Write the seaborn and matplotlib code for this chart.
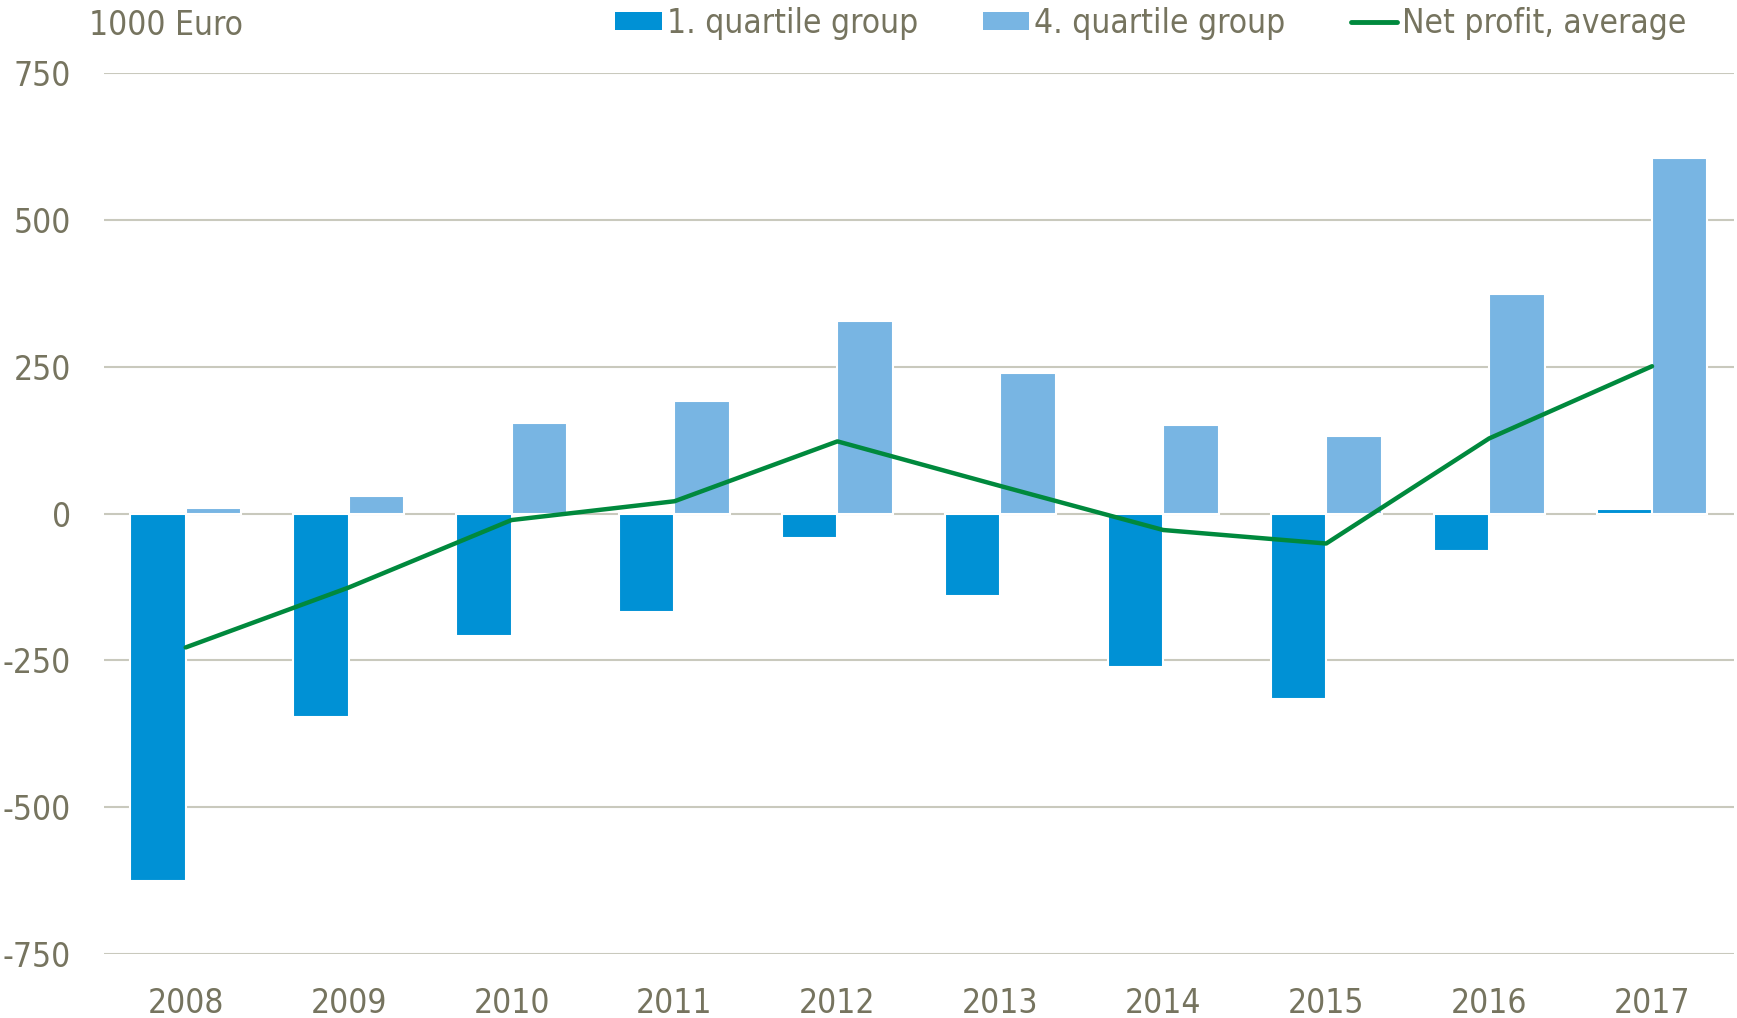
import numpy as np
import pandas as pd
import seaborn as sns
import matplotlib
matplotlib.use("Agg")
from matplotlib import pyplot as plt
from matplotlib.patches import Patch
from matplotlib.lines import Line2D

# values (1000 Euro)
years = ["2008", "2009", "2010", "2011", "2012", "2013", "2014", "2015", "2016", "2017"]
q1_group = [-626, -347, -208, -168, -42, -140, -262, -315, -64, 8]
q4_group = [9, 30, 155, 192, 328, 240, 151, 132, 374, 606]
net_profit = [-228, -126, -11, 21, 123, 47, -28, -51, 128, 251]
y_ticks = [-750, -500, -250, 0, 250, 500, 750]

dark_blue = "#0091d5"
light_blue = "#78b5e3"
green = "#00893d"
txt = "#76745f"
grid = "#c9c9bd"

sns.set_style("white")
plt.rcParams["font.family"] = ["DejaVu Sans"]
plt.rcParams["font.stretch"] = "condensed"

df = pd.DataFrame({
    "year": years * 2,
    "value": q1_group + q4_group,
    "group": ["1. quartile group"] * len(years) + ["4. quartile group"] * len(years),
})

fig = plt.figure(figsize=(17.37, 10.18), dpi=100)
ax = fig.add_axes([0.060, 0.063, 0.938, 0.865])

for t in y_ticks:
    ax.axhline(t, color=grid, linewidth=1.5, zorder=0)

sns.barplot(data=df, x="year", y="value", hue="group",
            palette=[dark_blue, light_blue], width=0.68, dodge=True,
            edgecolor="white", linewidth=1.5, saturation=1,
            errorbar=None, legend=False, ax=ax, zorder=2)

sns.lineplot(x=years, y=net_profit, color=green, linewidth=3.2,
             sort=False, ax=ax, zorder=3)

ax.set_xlim(-0.5, 9.5)
ax.set_ylim(-750, 750)
ax.set_yticks(y_ticks)
ax.set_yticklabels([str(t) for t in y_ticks])
ax.set_xlabel("")
ax.set_ylabel("")
for s in ax.spines.values():
    s.set_visible(False)
ax.tick_params(axis="both", length=0, labelsize=24, labelcolor=txt)
ax.tick_params(axis="y", pad=24)
ax.tick_params(axis="x", pad=24)

fig.text(0.051, 0.975, "1000 Euro", fontsize=24, color=txt, va="center", ha="left")

handles = [
    Patch(facecolor=dark_blue, edgecolor="none"),
    Patch(facecolor=light_blue, edgecolor="none"),
    Line2D([0], [0], color=green, linewidth=3.5),
]
labels = ["1. quartile group", "4. quartile group", "Net profit, average"]
fig.legend(handles, labels, loc="center left", bbox_to_anchor=(0.354, 0.977),
           ncol=3, frameon=False, fontsize=24, labelcolor=txt,
           handlelength=1.4, handleheight=0.45, handletextpad=0.15,
           columnspacing=1.95, borderpad=0, borderaxespad=0)

fig.savefig("out.png", dpi=100)
